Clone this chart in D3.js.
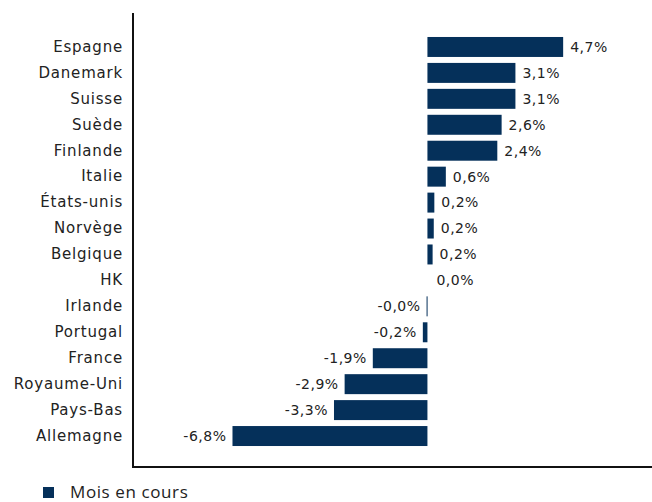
<!DOCTYPE html>
<html>
<head>
<meta charset="utf-8">
<script src="https://cdn.jsdelivr.net/npm/d3@7"></script>
<style>
  body { margin: 0; background: #fff; }
  svg { display: block; }
</style>
</head>
<body>
<div id="viz"></div>
<script>
const width = 652;
const height = 502;
const margin = {top: 13, right: 0, bottom: 35, left: 133};
const color = '#05305a';

const countries = ['Espagne', 'Danemark', 'Suisse', 'Suède', 'Finlande', 'Italie', 'États-unis', 'Norvège',
	'Belgique', 'HK', 'Irlande', 'Portugal', 'France', 'Royaume-Uni', 'Pays-Bas', 'Allemagne'];
const values = [4.72, 3.06, 3.06, 2.58, 2.43, 0.64, 0.24, 0.22, 0.18, 0.0, -0.03, -0.16, -1.9, -2.88, -3.25, -6.78];
const seriesName = 'Mois en cours';

const data = countries.map((c, i) => ({name: c, value: values[i]}));

const fmt = v => v.toFixed(1).replace('.', ',') + '%';

const xScale = d3.scaleLinear()
	.domain([-10.24, 7.81])
	.range([margin.left, width - margin.right]);

const yScale = d3.scaleBand()
	.domain(countries)
	.range([34, 449])
	.paddingInner(0.23)
	.paddingOuter(0.115);

const chart = d3.select('#viz')
	.append('svg')
	.attr('width', width)
	.attr('height', height)
	.attr('viewBox', [0, 0, width, height]);

// bars
chart.append('g')
	.selectAll('rect')
	.data(data)
	.join('rect')
	.attr('x', d => xScale(Math.min(0, d.value)))
	.attr('y', d => yScale(d.name))
	.attr('width', d => Math.max(Math.abs(xScale(d.value) - xScale(0)), d.value === 0 ? 0 : 1))
	.attr('height', yScale.bandwidth())
	.attr('fill', color);

// value labels
chart.append('g')
	.selectAll('text')
	.data(data)
	.join('text')
	.attr('x', d => d.value < 0 ? xScale(d.value) - 6 : xScale(d.value) + (d.value === 0 ? 9 : 7))
	.attr('y', d => yScale(d.name) + yScale.bandwidth() / 2)
	.attr('dy', '0.35em')
	.attr('text-anchor', d => d.value < 0 ? 'end' : 'start')
	.attr('font-family', 'DejaVu Sans, sans-serif')
	.attr('font-size', 14)
	.attr('letter-spacing', 0.5)
	.attr('fill', '#222')
	.text(d => fmt(d.value));

// category axis
const yAxis = chart.append('g')
	.attr('transform', `translate(${margin.left}, 0)`)
	.call(d3.axisLeft(yScale).tickSize(0).tickPadding(10));
yAxis.select('.domain').remove();
yAxis.selectAll('text')
	.attr('font-family', 'DejaVu Sans, sans-serif')
	.attr('font-size', 15)
	.attr('letter-spacing', 0.8)
	.attr('fill', '#222');

// frame lines
chart.append('line')
	.attr('x1', margin.left).attr('x2', margin.left)
	.attr('y1', margin.top).attr('y2', height - margin.bottom + 1)
	.attr('stroke', '#111').attr('stroke-width', 2);
chart.append('line')
	.attr('x1', margin.left - 1).attr('x2', width)
	.attr('y1', height - margin.bottom).attr('y2', height - margin.bottom)
	.attr('stroke', '#111').attr('stroke-width', 2);

// legend
const legend = chart.append('g').attr('transform', 'translate(43, 487)');
legend.append('rect')
	.attr('width', 11).attr('height', 11)
	.attr('fill', color);
legend.append('text')
	.attr('x', 27).attr('y', 5.5)
	.attr('dy', '0.35em')
	.attr('font-family', 'Open Sans, sans-serif')
	.attr('font-size', 17)
	.attr('letter-spacing', 0.6)
	.attr('fill', '#222')
	.text(seriesName);
</script>
</body>
</html>
